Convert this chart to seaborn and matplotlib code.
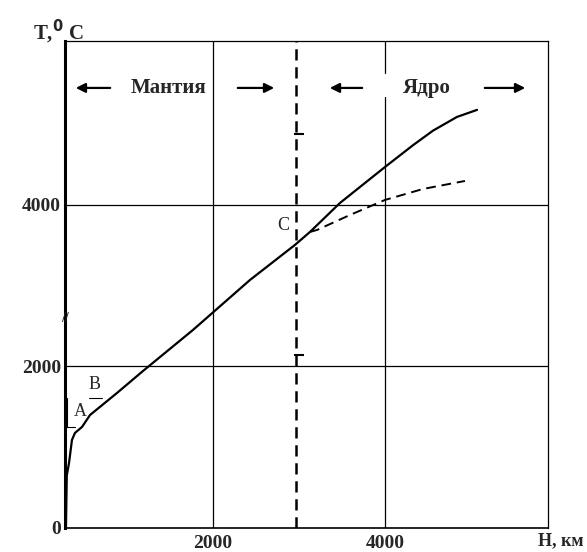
import numpy as np
import pandas as pd
import seaborn as sns
import matplotlib.pyplot as plt

# depth (km) and temperature (C)
depth_solid = [290, 300, 326, 360, 395, 477, 570, 884, 1186, 1767, 2430, 2953,
               3128, 3477, 4000, 4326, 4558, 4837, 5070]
temp_solid = [0, 650, 805, 1090, 1177, 1251, 1399, 1672, 1944, 2452, 3071, 3505,
              3666, 4025, 4470, 4740, 4920, 5090, 5177]

depth_dash = [3128, 3209, 3593, 4000, 4442, 4930]
temp_dash = [3666, 3690, 3876, 4062, 4198, 4297]

boundary = 2960          # mantle / core boundary as drawn
mark_depth = [3000, 3000]
mark_temp = [4879, 2142]

x_ticks = [2000, 4000]
y_ticks = [0, 2000, 4000]

sns.set_style("white")
plt.rcParams['font.family'] = ['Liberation Serif', 'DejaVu Serif']

fig = plt.figure(figsize=(5.87, 5.52), dpi=100)
ax = fig.add_axes([0.1107, 0.0435, 0.8228, 0.8822])

# grid
for yv in [2000, 4000]:
    ax.axhline(yv, color='black', lw=0.9, zorder=1)
ax.axvline(2000, color='black', lw=0.9, zorder=1)
ax.axvline(4000, ymax=0.885, color='black', lw=0.9, zorder=1)
ax.axvline(4000, ymin=0.934, color='black', lw=0.9, zorder=1)

# boundary
ax.axvline(boundary, color='black', lw=1.8, dashes=(4.5, 2.7), zorder=2)

df_solid = pd.DataFrame({"H": depth_solid, "T": temp_solid})
df_dash = pd.DataFrame({"H": depth_dash, "T": temp_dash})
sns.lineplot(data=df_solid, x="H", y="T", color='black', lw=1.6,
             estimator=None, sort=False, ax=ax, zorder=3)
sns.lineplot(data=df_dash, x="H", y="T", color='black', lw=1.4,
             estimator=None, sort=False, ax=ax, zorder=3)
ax.lines[-1].set_dashes((5, 3))

ax.plot(mark_depth, mark_temp, ls='none', marker='_', ms=6.5, mew=1.5,
        color='black', zorder=3)

# little bracket near A
ax.plot([395, 302, 302], [1251, 1251, 1610], color='black', lw=0.8, zorder=3)

ax.set_xlim(279, 5895)
ax.set_ylim(0, 6030)
ax.set_xticks(x_ticks)
ax.set_yticks(y_ticks)
ax.set_xticklabels([str(v) for v in x_ticks], fontsize=14, fontweight='bold')
ax.set_yticklabels([str(v) for v in y_ticks], fontsize=14, fontweight='bold')
ax.tick_params(axis='x', length=0, pad=5)
ax.tick_params(axis='y', length=0, pad=3)
ax.set_xlabel("")
ax.set_ylabel("")

for side in ['top', 'right']:
    ax.spines[side].set_linewidth(0.9)
ax.spines['bottom'].set_linewidth(1.2)
ax.spines['left'].set_linewidth(2.2)
for sp in ax.spines.values():
    sp.set_color('black')

# axis labels
fig.text(33 / 587, 1 - 32 / 552, r"T,$^{\mathbf{0}}$ C", fontsize=15, fontweight='bold',
         ha='left', va='center')
fig.text(584 / 587, 1 - 541 / 552, "Н, км", fontsize=13, fontweight='bold',
         ha='right', va='center')

# region labels
ax.text(1488, 5449, "Мантия", fontsize=15, fontweight='bold', ha='center', va='center')
ax.text(4488, 5449, "Ядро", fontsize=15, fontweight='bold', ha='center', va='center')
arrow = dict(arrowstyle='-|>', color='black', lw=1.6, mutation_scale=14)
ax.annotate("", xy=(372, 5449), xytext=(837, 5449), arrowprops=arrow)
ax.annotate("", xy=(2744, 5449), xytext=(2256, 5449), arrowprops=arrow)
ax.annotate("", xy=(3326, 5449), xytext=(3767, 5449), arrowprops=arrow)
ax.annotate("", xy=(5663, 5449), xytext=(5128, 5449), arrowprops=arrow)

# point letters
ax.text(455, 1437, "A", fontsize=13, ha='center', va='center')
ax.text(628, 1775, "B", fontsize=13, ha='center', va='center')
ax.plot([555, 705], [1610, 1610], color='black', lw=0.8)
ax.text(2814, 3740, "C", fontsize=13, ha='center', va='center')

# axis break mark
ax.text(0.0, 2600, "//", transform=ax.get_yaxis_transform(), fontsize=10,
        fontweight='bold', ha='center', va='center')

fig.savefig("out.png", dpi=100)
